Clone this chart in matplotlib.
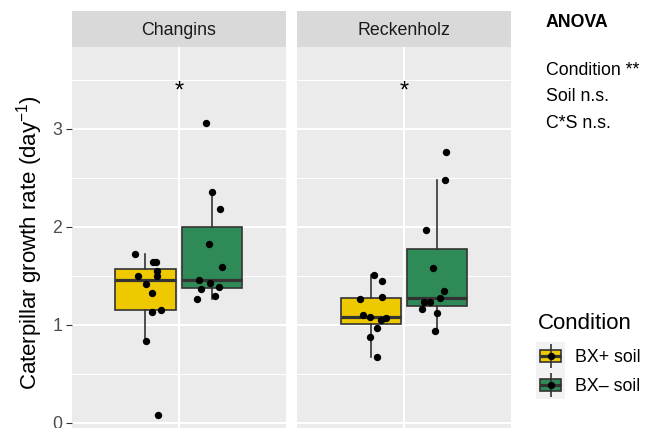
import matplotlib
matplotlib.use("Agg")
import matplotlib.pyplot as plt
from matplotlib.patches import Rectangle
import numpy as np

plt.rcParams['font.family'] = ['Liberation Sans', 'DejaVu Sans']
plt.rcParams['mathtext.fontset'] = 'custom'
plt.rcParams['mathtext.rm'] = 'Liberation Sans'
plt.rcParams['mathtext.it'] = 'Liberation Sans:italic'
plt.rcParams['mathtext.bf'] = 'Liberation Sans:bold'

# ---------------- data ----------------
sites = ["Changins", "Reckenholz"]
conditions = ["BX+ soil", "BX\u2013 soil"]
cond_colors = ["#EEC900", "#2E8B57"]

changins_bxplus = [1.72, 1.50, 1.42, 1.32, 1.13, 1.15, 1.64, 1.64, 1.545, 1.50, 0.83, 0.08]
changins_bxplus_jitter = [-0.059, -0.040, 0.001, 0.036, 0.035, 0.087, 0.042, 0.061, 0.066, 0.065, 0.001, 0.072]
changins_bxminus = [3.06, 2.35, 2.18, 1.82, 1.59, 1.46, 1.43, 1.36, 1.38, 1.26, 1.29]
changins_bxminus_jitter = [-0.037, 0.000, 0.043, -0.020, 0.053, -0.073, -0.011, -0.063, 0.039, -0.084, 0.015]

reckenholz_bxplus = [1.51, 1.45, 1.26, 1.285, 1.10, 1.075, 1.05, 1.065, 0.97, 0.875, 0.67]
reckenholz_bxplus_jitter = [0.017, 0.064, -0.060, 0.063, -0.044, -0.003, 0.058, 0.085, 0.034, -0.003, 0.038]
reckenholz_bxminus = [2.76, 2.48, 1.97, 1.58, 1.34, 1.27, 1.23, 1.23, 1.16, 1.12, 0.94]
reckenholz_bxminus_jitter = [0.050, 0.041, -0.066, -0.023, 0.037, 0.015, -0.075, -0.040, -0.086, -0.002, -0.015]

site_values = {
    "Changins": [changins_bxplus, changins_bxminus],
    "Reckenholz": [reckenholz_bxplus, reckenholz_bxminus],
}
site_jitter = {
    "Changins": [changins_bxplus_jitter, changins_bxminus_jitter],
    "Reckenholz": [reckenholz_bxplus_jitter, reckenholz_bxminus_jitter],
}
signif_label = ["*", "*"]
signif_y = [3.32, 3.32]

y_ticks = [0, 1, 2, 3]
y_tick_labels = ["0", "1", "2", "3"]
y_minor = [0.5, 1.5, 2.5, 3.5]
y_label = "Caterpillar growth rate (day$^{-1}$)"

anova_title = "ANOVA"
anova_lines = ["Condition **", "Soil n.s.", "C*S n.s."]
legend_title = "Condition"

# ---------------- layout ----------------
W, H = 645, 428
fig = plt.figure(figsize=(W / 100, H / 100), dpi=100)
fig.patch.set_facecolor("white")

def px_axes(x0, y0, x1, y1, **kw):
    return fig.add_axes([x0 / W, 1 - y1 / H, (x1 - x0) / W, (y1 - y0) / H], **kw)

panel_x = [(72, 285.7), (297.3, 510.7)]
panel_top, panel_bot = 47, 437
strip_top = 11

PANEL_BG = "#EBEBEB"
STRIP_BG = "#D9D9D9"
EDGE = "#333333"
dodge = 0.1875
box_w = 0.3375
PT_MS = 5.3

for i, site in enumerate(sites):
    x0, x1 = panel_x[i]
    ax = px_axes(x0, panel_top, x1, panel_bot)
    ax.set_facecolor(PANEL_BG)
    for s in ax.spines.values():
        s.set_visible(False)
    ax.set_xlim(0.4, 1.6)
    ax.set_ylim(-0.146, 3.834)
    ax.set_axisbelow(True)

    ax.set_xticks([1])
    ax.set_yticks(y_ticks)
    ax.set_yticks(y_minor, minor=True)
    ax.grid(which="major", axis="both", color="white", lw=1.5)
    ax.grid(which="minor", axis="y", color="white", lw=0.75)
    ax.tick_params(axis="x", length=0, labelbottom=False)
    ax.tick_params(axis="y", which="minor", length=0)
    if i == 0:
        ax.set_yticklabels(y_tick_labels)
        ax.tick_params(axis="y", which="major", length=4, width=0.8, color=EDGE,
                       labelsize=12.8, labelcolor="#4D4D4D", pad=3.2)
    else:
        ax.tick_params(axis="y", which="major", length=0, labelleft=False)

    vals = site_values[site]
    positions = [1 - dodge, 1 + dodge]
    bp = ax.boxplot(vals, positions=positions, widths=box_w, patch_artist=True,
                    showfliers=False, showcaps=False, whis=1.5,
                    medianprops=dict(color=EDGE, lw=2.3, solid_capstyle="butt"),
                    boxprops=dict(edgecolor=EDGE, lw=1.2),
                    whiskerprops=dict(color=EDGE, lw=1.2),
                    manage_ticks=False, zorder=2)
    for patch, c in zip(bp["boxes"], cond_colors):
        patch.set_facecolor(c)
    for k in range(2):
        xs = np.array(site_jitter[site][k]) + positions[k]
        ax.plot(xs, vals[k], "o", color="black", ms=PT_MS, mew=0, zorder=5)

    ax.text(1, signif_y[i], signif_label[i], ha="center", va="baseline",
            fontsize=17, color="black", zorder=6)

    sax = px_axes(x0, strip_top, x1, panel_top)
    sax.set_facecolor(STRIP_BG)
    sax.set_xticks([]); sax.set_yticks([])
    for s in sax.spines.values():
        s.set_visible(False)
    sax.text(0.5, (panel_top - 35.3) / (panel_top - strip_top), site, ha="center",
             va="baseline", fontsize=12.8, color="#1A1A1A", transform=sax.transAxes)

# y label
fig.text(29.5 / W, 1 - 242.5 / H, y_label, rotation=90, ha="center", va="center",
         fontsize=16, color="black")

# overlay for annotations / legend (pixel coordinates)
ov = fig.add_axes([0, 0, 1, 1], zorder=10)
ov.set_xlim(0, W); ov.set_ylim(H, 0)
ov.axis("off")
ov.patch.set_alpha(0)

ov.text(546, 26.7, anova_title, fontweight="bold", fontsize=12.8, va="baseline", ha="left")
for j, line in enumerate(anova_lines):
    ov.text(546, 75 + j * 26.4, line, fontsize=12.8, va="baseline", ha="left")

ov.text(537.7, 329.3, legend_title, fontsize=16, va="baseline", ha="left")
key_x0, key_w, key_top, key_h = 536, 29, 341.7, 28.8
for k, (lab, c) in enumerate(zip(conditions, cond_colors)):
    ty = key_top + k * key_h
    cy = ty + key_h / 2
    cx = key_x0 + key_w / 2
    ov.add_patch(Rectangle((key_x0, ty), key_w, key_h, facecolor="#F2F2F2", edgecolor="none"))
    ov.plot([cx, cx], [cy - 12, cy + 12], color=EDGE, lw=1.2, solid_capstyle="butt")
    ov.add_patch(Rectangle((key_x0 + 3.8, cy - 6.2), key_w - 7.6, 12.4, facecolor=c,
                           edgecolor=EDGE, lw=1.2))
    ov.plot([key_x0 + 3.8, key_x0 + key_w - 3.8], [cy, cy], color=EDGE, lw=2.3,
            solid_capstyle="butt")
    ov.plot([cx], [cy], "o", color="black", ms=PT_MS, mew=0)
    ov.text(575, ty + 20.6, lab, fontsize=12.8, va="baseline", ha="left")

fig.savefig("out.png", dpi=100)
